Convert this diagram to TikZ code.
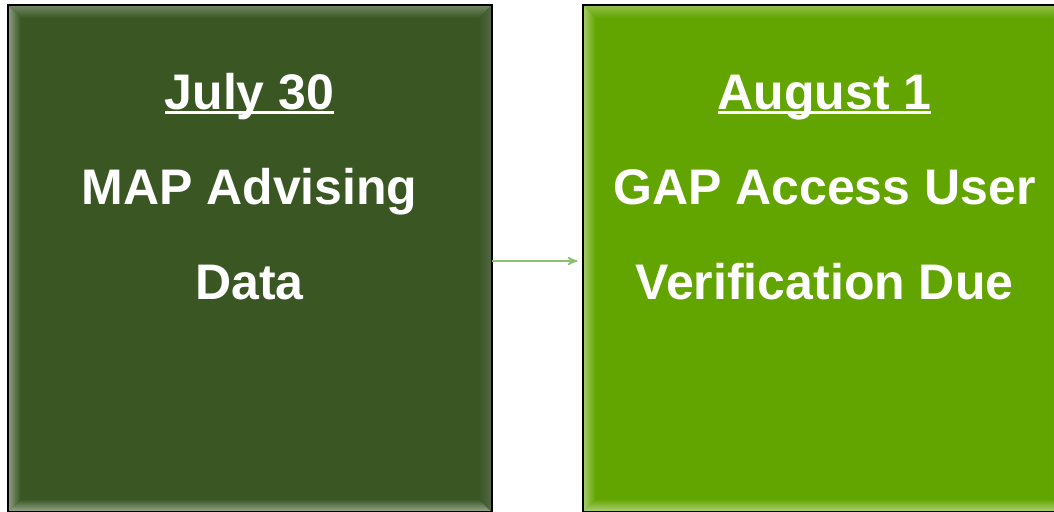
\documentclass[tikz,border=0pt]{standalone}
\usepackage{fontspec}
\setmainfont{Liberation Sans}
\usetikzlibrary{arrows,positioning}
\definecolor{julygreen}{RGB}{57,86,35}
\definecolor{auggreen}{RGB}{99,165,0}
\definecolor{arrowgreen}{RGB}{140,192,110}
\tikzstyle{datebox}=[rectangle, draw=black, line width=1pt, outer sep=0pt, inner sep=0pt, minimum width=242pt, minimum height=253.5pt]
\tikzstyle{dtxt}=[text=white, font=\fontsize{25}{30}\selectfont\bfseries, inner sep=0pt, outer sep=0pt, text height=18pt, text depth=5pt]
\tikzstyle{uline}=[-, white, line width=1.3pt]

\begin{document}
\begin{tikzpicture}
[->,thick,-stealth', node distance=24.5pt]
 \useasboundingbox (0,0) rectangle (527pt,-255.5pt);
 \clip (0,0) rectangle (527pt,-255.5pt);
 \node[datebox, fill=julygreen] (julybox) at (124.75pt,-129.25pt) {};
 \node[datebox, fill=auggreen] (augbox) [right=45.5pt of julybox] {};
 % bevelled edges of the two boxes
 \foreach \bx/\col in {julybox/julygreen, augbox/auggreen} {
   \shade[top color=\col!70!white, bottom color=\col] (\bx.north west) -- (\bx.north east)
     -- ([shift={(-6.5pt,-6.5pt)}]\bx.north east) -- ([shift={(6.5pt,-6.5pt)}]\bx.north west) -- cycle;
   \shade[left color=\col!55!white, middle color=\col!20!white, right color=\col] (\bx.north west)
     -- ([shift={(6.5pt,-6.5pt)}]\bx.north west) -- ([shift={(6.5pt,6.5pt)}]\bx.south west) -- (\bx.south west) -- cycle;
   \shade[left color=\col, middle color=\col!45!white, right color=\col!60!gray] (\bx.north east)
     -- ([shift={(-6.5pt,-6.5pt)}]\bx.north east) -- ([shift={(-6.5pt,6.5pt)}]\bx.south east) -- (\bx.south east) -- cycle;
   \shade[top color=\col, bottom color=\col!50!white] (\bx.south west) -- ([shift={(6.5pt,6.5pt)}]\bx.south west)
     -- ([shift={(-6.5pt,6.5pt)}]\bx.south east) -- (\bx.south east) -- cycle;
   \draw[-, black, line width=1pt] (\bx.north west) rectangle (\bx.south east);
 }
 \node[dtxt] (julydate) [below=34pt of julybox.north] {July 30};
 \node[dtxt] (julyl1) [below=of julydate] {MAP Advising};
 \node[dtxt] (julyl2) [below=of julyl1] {Data};
 \node[dtxt] (augdate) [below=34pt of augbox.north] {August 1};
 \node[dtxt] (augl1) [below=of augdate] {GAP Access User};
 \node[dtxt] (augl2) [below=of augl1] {Verification Due};
 % underlined dates
 \draw[uline] ([yshift=-1.75pt]julydate.base west) -- ([yshift=-1.75pt]julydate.base east);
 \draw[uline] ([yshift=-1.75pt]augdate.base west) -- ([yshift=-1.75pt]augdate.base east);
 \path[arrowgreen, line width=0.75pt, shorten >=2.5pt]
   ([yshift=-1.25pt]julybox.east) edge node {} ([yshift=-1.25pt]augbox.west);
\end{tikzpicture}
\end{document}
